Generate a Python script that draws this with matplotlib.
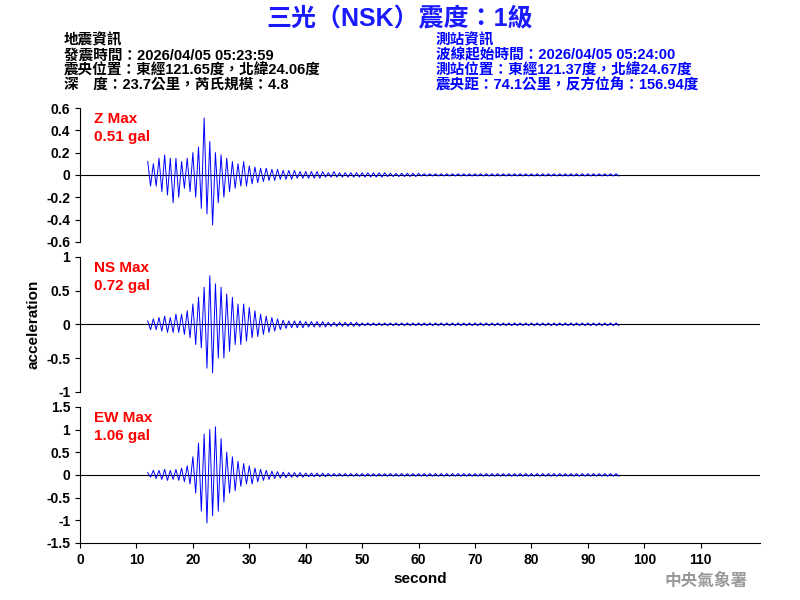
import matplotlib
matplotlib.use("Agg")
import matplotlib.pyplot as plt
import numpy as np

plt.rcParams['font.family'] = ['Liberation Sans', 'Noto Sans CJK TC', 'DejaVu Sans']
plt.rcParams['font.weight'] = 'bold'
plt.rcParams['axes.labelweight'] = 'bold'

# per-second envelope (t = 12 .. 95 s)
t_start = 12
z_top = [0.12,0.10,0.15,0.18,0.15,0.15,0.12,0.15,0.20,0.25,0.51,0.30,0.20,0.18,0.15,0.12,0.10,0.12,0.08,0.07,
         0.06,0.06,0.05,0.05,0.04,0.04,0.04,0.03,0.03,0.03,0.03,0.03,0.02,0.03,0.02,0.02,0.02,0.02,0.02,0.02,
         0.02,0.02,0.02,0.015,0.015,0.015,0.015,0.015,0.015,0.01,0.01,0.01,0.01,0.01,0.01,0.01,0.01,0.01,0.01,0.01,
         0.01,0.01,0.01,0.01,0.01,0.01,0.01,0.01,0.01,0.01,0.01,0.01,0.01,0.01,0.01,0.01,0.01,0.01,0.01,0.01,
         0.01,0.01,0.01,0.01]
z_bot = [-0.10,-0.10,-0.15,-0.18,-0.25,-0.20,-0.12,-0.15,-0.20,-0.30,-0.35,-0.45,-0.25,-0.20,-0.15,-0.12,-0.10,-0.10,-0.08,-0.07,
         -0.06,-0.05,-0.05,-0.04,-0.04,-0.04,-0.03,-0.03,-0.03,-0.03,-0.03,-0.02,-0.02,-0.02,-0.02,-0.02,-0.02,-0.02,-0.02,-0.02,
         -0.02,-0.02,-0.015,-0.015,-0.015,-0.015,-0.015,-0.015,-0.01,-0.01,-0.01,-0.01,-0.01,-0.01,-0.01,-0.01,-0.01,-0.01,-0.01,-0.01,
         -0.01,-0.01,-0.01,-0.01,-0.01,-0.01,-0.01,-0.01,-0.01,-0.01,-0.01,-0.01,-0.01,-0.01,-0.01,-0.01,-0.01,-0.01,-0.01,-0.01,
         -0.01,-0.01,-0.01,-0.01]
ns_top = [0.05,0.08,0.10,0.12,0.10,0.15,0.15,0.20,0.30,0.40,0.55,0.72,0.60,0.55,0.45,0.40,0.30,0.30,0.25,0.20,
          0.15,0.12,0.10,0.08,0.06,0.05,0.05,0.05,0.04,0.04,0.04,0.04,0.03,0.03,0.03,0.03,0.03,0.03,0.02,0.02,
          0.02,0.02,0.02,0.02,0.02,0.02,0.02,0.02,0.02,0.02,0.02,0.02,0.02,0.02,0.02,0.02,0.02,0.02,0.02,0.02,
          0.02,0.02,0.02,0.02,0.02,0.02,0.02,0.02,0.02,0.02,0.02,0.02,0.02,0.02,0.02,0.02,0.02,0.02,0.02,0.02,
          0.02,0.02,0.02,0.02]
ns_bot = [-0.08,-0.08,-0.10,-0.12,-0.12,-0.12,-0.15,-0.20,-0.30,-0.35,-0.65,-0.72,-0.50,-0.50,-0.40,-0.30,-0.30,-0.25,-0.20,-0.18,
          -0.15,-0.12,-0.10,-0.08,-0.06,-0.05,-0.05,-0.05,-0.04,-0.04,-0.04,-0.04,-0.03,-0.03,-0.03,-0.03,-0.03,-0.03,-0.02,-0.02,
          -0.02,-0.02,-0.02,-0.02,-0.02,-0.02,-0.02,-0.02,-0.02,-0.02,-0.02,-0.02,-0.02,-0.02,-0.02,-0.02,-0.02,-0.02,-0.02,-0.02,
          -0.02,-0.02,-0.02,-0.02,-0.02,-0.02,-0.02,-0.02,-0.02,-0.02,-0.02,-0.02,-0.02,-0.02,-0.02,-0.02,-0.02,-0.02,-0.02,-0.02,
          -0.02,-0.02,-0.02,-0.02]
ew_top = [0.05,0.10,0.10,0.12,0.10,0.12,0.15,0.20,0.40,0.70,0.90,1.00,1.06,0.80,0.50,0.40,0.30,0.25,0.20,0.15,
          0.12,0.10,0.08,0.07,0.06,0.05,0.05,0.05,0.04,0.04,0.04,0.04,0.03,0.03,0.03,0.03,0.03,0.03,0.03,0.03,
          0.03,0.03,0.03,0.03,0.03,0.03,0.03,0.03,0.03,0.03,0.03,0.03,0.03,0.03,0.03,0.03,0.03,0.03,0.03,0.03,
          0.03,0.03,0.03,0.03,0.03,0.03,0.03,0.03,0.03,0.03,0.03,0.03,0.03,0.03,0.03,0.03,0.03,0.03,0.03,0.03,
          0.03,0.03,0.03,0.03]
ew_bot = [-0.05,-0.08,-0.10,-0.12,-0.10,-0.12,-0.15,-0.20,-0.40,-0.80,-1.06,-0.90,-0.80,-0.60,-0.40,-0.35,-0.25,-0.20,-0.20,-0.15,
          -0.12,-0.10,-0.08,-0.07,-0.06,-0.05,-0.05,-0.05,-0.04,-0.04,-0.04,-0.04,-0.03,-0.03,-0.03,-0.03,-0.03,-0.03,-0.03,-0.03,
          -0.03,-0.03,-0.03,-0.03,-0.03,-0.03,-0.03,-0.03,-0.03,-0.03,-0.03,-0.03,-0.03,-0.03,-0.03,-0.03,-0.03,-0.03,-0.03,-0.03,
          -0.03,-0.03,-0.03,-0.03,-0.03,-0.03,-0.03,-0.03,-0.03,-0.03,-0.03,-0.03,-0.03,-0.03,-0.03,-0.03,-0.03,-0.03,-0.03,-0.03,
          -0.03,-0.03,-0.03,-0.03]

labels = ["Z Max\n0.51 gal", "NS Max\n0.72 gal", "EW Max\n1.06 gal"]
ylims = [0.6, 1.0, 1.5]
yticks = [[-0.6,-0.4,-0.2,0,0.2,0.4,0.6], [-1,-0.5,0,0.5,1], [-1.5,-1,-0.5,0,0.5,1,1.5]]
xticks = list(range(0, 111, 10))

fig = plt.figure(figsize=(8, 6), dpi=100)
pos = [(0.1, 0.597, 0.85, 0.223), (0.1, 0.347, 0.85, 0.225), (0.1, 0.095, 0.85, 0.227)]
series = [(z_top, z_bot), (ns_top, ns_bot), (ew_top, ew_bot)]

for i, (p, (top, bot)) in enumerate(zip(pos, series)):
    ax = fig.add_axes(p)
    tt, yy = [], []
    for k, (a, b) in enumerate(zip(top, bot)):
        t = t_start + k
        tt += [t, t + 0.5]
        yy += [a, b]
    ax.plot(tt, yy, color='blue', lw=0.7)
    ax.axhline(0, color='black', lw=0.8, zorder=0)
    ax.set_xlim(0, 120.5)
    ax.set_ylim(-ylims[i], ylims[i])
    ax.set_yticks(yticks[i])
    ax.set_yticklabels(["%g" % v for v in yticks[i]], fontsize=10)
    for s in ['top', 'right']:
        ax.spines[s].set_visible(False)
    ax.text(0.02, 0.97, labels[i], transform=ax.transAxes, color='red',
            fontsize=11, va='top', ha='left', linespacing=1.4)
    if i < 2:
        ax.spines['bottom'].set_visible(False)
        ax.set_xticks([])
    else:
        ax.set_xticks(xticks)
        ax.set_xticklabels([str(v) for v in xticks], fontsize=10)
        ax.set_xlabel("second", fontsize=11)
    if i == 1:
        ax.set_ylabel("acceleration", fontsize=11)

fig.text(0.5, 0.988, "三光（NSK）震度：1級", color='#1a1aff', fontsize=18,
         fontweight='bold', ha='center', va='top')
left = "地震資訊\n發震時間：2026/04/05 05:23:59\n震央位置：東經121.65度，北緯24.06度\n深　度：23.7公里，芮氏規模：4.8"
right = "測站資訊\n波線起始時間：2026/04/05 05:24:00\n測站位置：東經121.37度，北緯24.67度\n震央距：74.1公里，反方位角：156.94度"
fig.text(0.08, 0.944, left, fontsize=10.5, va='top', ha='left', linespacing=1.05)
fig.text(0.545, 0.944, right, fontsize=10.5, va='top', ha='left', color='blue', linespacing=1.05)
fig.text(0.935, 0.018, "中央氣象署", color='#999999', fontsize=12, ha='right', va='bottom')

fig.savefig("out.png", dpi=100)
